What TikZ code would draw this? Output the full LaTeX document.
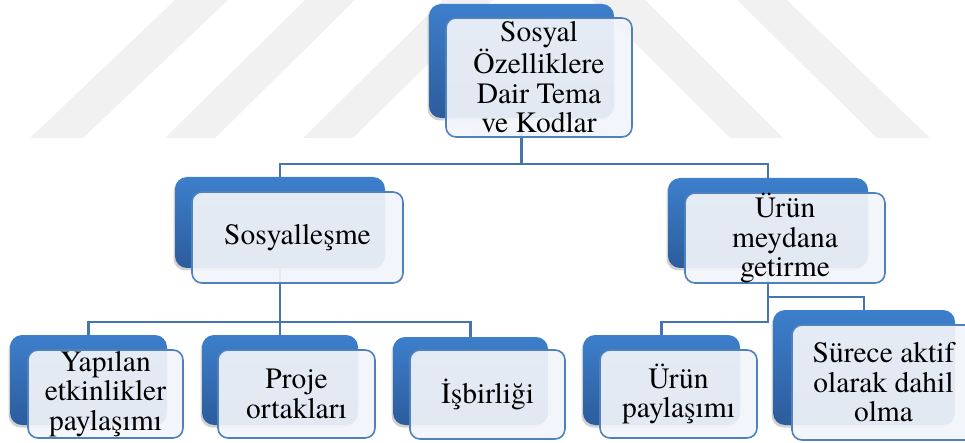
\documentclass[tikz,border=0pt]{standalone}
\usepackage{fontspec}
\setmainfont{texgyretermes}[Extension=.otf, UprightFont=*-regular, BoldFont=*-bold]
\usetikzlibrary{shadows}
\definecolor{bbtop}{HTML}{3D7FCC}
\definecolor{bbbot}{HTML}{2C5C9C}
\definecolor{fbdraw}{HTML}{4F81BD}
\definecolor{fbfill}{HTML}{F1F4F9}
\definecolor{lncol}{HTML}{4674B0}
\definecolor{wm}{HTML}{F1F1F1}
\newcommand\bxfont{\rmfamily\fontsize{29.5}{29.5}\selectfont}
\pgfdeclarelayer{bg}
\pgfsetlayers{bg,main}
\tikzset{
  backbox/.style={rounded corners=12pt, inner sep=0pt, top color=bbtop, bottom color=bbbot, draw=none,
    general shadow={fill=black, opacity=0.18, shadow xshift=-1.5pt, shadow yshift=-2.5pt}},
  frontbox/.style={rounded corners=10pt, draw=fbdraw, line width=1.6pt, fill=fbfill, fill opacity=0.93,
    text opacity=1, inner sep=0pt, align=center, font=\bxfont},
  conn/.style={draw=lncol, line width=2.2pt},
  wmark/.style={fill=wm}
}
\begin{document}
\begin{tikzpicture}[x=1pt,y=-1pt]
\useasboundingbox (0,0) rectangle (965,443);
\clip (0,0) rectangle (965,443);
% boxes
\node[backbox, minimum width=185pt, minimum height=114pt] (topB) at (521.5,61) {};
\node[frontbox, minimum width=186pt, minimum height=119pt] (topF) at (539,77.5) {Sosyal\\Özelliklere\\Dair Tema\\ve Kodlar};
\node[backbox, minimum width=210pt, minimum height=91pt] (sosB) at (280,222.5) {};
\node[frontbox, minimum width=211pt, minimum height=91pt] (sosF) at (297.5,237.5) {Sosyalleşme};
\node[backbox, minimum width=200pt, minimum height=90pt] (urB) at (768,223) {};
\node[frontbox, minimum width=200pt, minimum height=90pt] (urF) at (785,238) {Ürün\\meydana\\getirme};
\node[backbox, minimum width=157pt, minimum height=90pt] (yapB) at (88.5,380) {};
\node[frontbox, minimum width=155pt, minimum height=88pt] (yapF) at (105.5,394) {Yapılan\\etkinlikler\\paylaşımı};
\node[backbox, minimum width=156pt, minimum height=90pt] (prB) at (280,380) {};
\node[frontbox, minimum width=157pt, minimum height=88pt] (prF) at (296.5,394) {Proje\\ortakları};
\node[backbox, minimum width=155pt, minimum height=88pt] (isB) at (470.5,381) {};
\node[frontbox, minimum width=155pt, minimum height=89pt] (isF) at (487.5,394.5) {İşbirliği};
\node[backbox, minimum width=157pt, minimum height=90pt] (upB) at (661.5,380) {};
\node[frontbox, minimum width=157pt, minimum height=88pt] (upF) at (678.5,394) {Ürün\\paylaşımı};
\node[backbox, minimum width=182pt, minimum height=115pt] (suB) at (864,367.5) {};
\node[frontbox, minimum width=183pt, minimum height=115pt] (suF) at (883.5,382.5) {Sürece aktif\\olarak dahil\\olma};
% junctions
\coordinate (j1) at (521.5,164);
\coordinate (j2) at (280,322);
\coordinate (j3) at (768,297);
\coordinate (j4) at (768,322);
\begin{pgfonlayer}{bg}
  \fill[wmark] (30,138) -- (83,138) -- (228,0) -- (175,0) -- cycle;
  \fill[wmark] (165,138) -- (215,138) -- (355,0) -- (305,0) -- cycle;
  \fill[wmark] (303,138) -- (353,138) -- (493,0) -- (443,0) -- cycle;
  \fill[wmark] (730,138) -- (783,138) -- (645,0) -- (592,0) -- cycle;
  \fill[wmark] (877,138) -- (930,138) -- (787,0) -- (737,0) -- cycle;
  \draw[conn] (topB.south) -- (j1) -| (sosB.north);
  \draw[conn] (j1) -| (urB.north);
  \draw[conn] (sosB.south) -- (prB.north);
  \draw[conn] (yapB.north) |- (j2) -| (isB.north);
  \draw[conn] (urB.south) -- (j4) -| (upB.north);
  \draw[conn] (j3) -| (suB.north);
\end{pgfonlayer}
\end{tikzpicture}
\end{document}
